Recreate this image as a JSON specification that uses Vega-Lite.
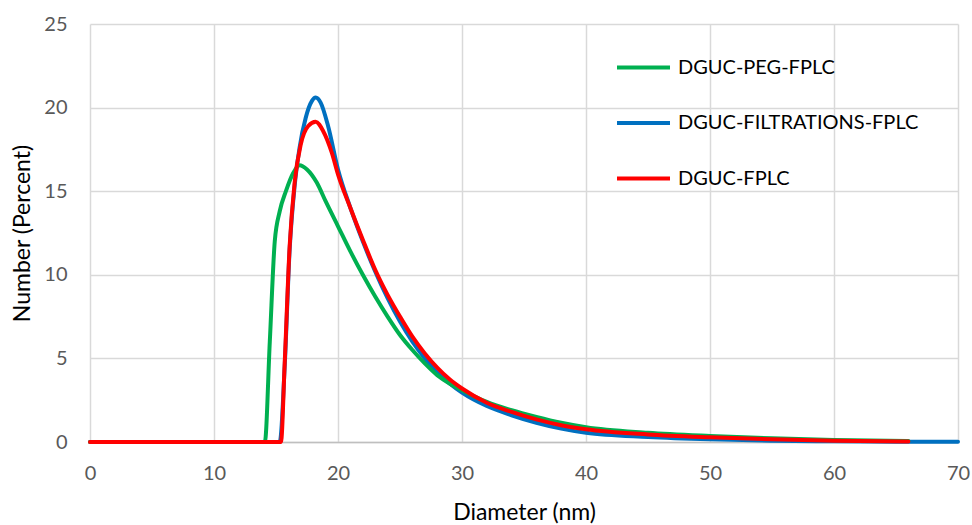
{
  "$schema": "https://vega.github.io/schema/vega-lite/v6.json",
  "width": 868,
  "height": 418,
  "autosize": {"type": "none"},
  "padding": {"left": 90, "top": 24, "right": 14, "bottom": 83},
  "background": "white",
  "config": {
    "view": {"stroke": null},
    "font": "Lato"
  },
  "data": {
    "values": [
      {"s": "DGUC-FILTRATIONS-FPLC", "x": 0, "y": 0},
      {"s": "DGUC-FILTRATIONS-FPLC", "x": 15.3, "y": 0},
      {"s": "DGUC-FILTRATIONS-FPLC", "x": 15.7, "y": 4.5},
      {"s": "DGUC-FILTRATIONS-FPLC", "x": 16.1, "y": 11.5},
      {"s": "DGUC-FILTRATIONS-FPLC", "x": 16.5, "y": 15.3},
      {"s": "DGUC-FILTRATIONS-FPLC", "x": 16.9, "y": 17.6},
      {"s": "DGUC-FILTRATIONS-FPLC", "x": 17.4, "y": 19.4},
      {"s": "DGUC-FILTRATIONS-FPLC", "x": 17.9, "y": 20.4},
      {"s": "DGUC-FILTRATIONS-FPLC", "x": 18.2, "y": 20.6},
      {"s": "DGUC-FILTRATIONS-FPLC", "x": 18.6, "y": 20.3},
      {"s": "DGUC-FILTRATIONS-FPLC", "x": 19.2, "y": 18.9},
      {"s": "DGUC-FILTRATIONS-FPLC", "x": 20, "y": 16.3},
      {"s": "DGUC-FILTRATIONS-FPLC", "x": 21, "y": 14.0},
      {"s": "DGUC-FILTRATIONS-FPLC", "x": 22, "y": 12.0},
      {"s": "DGUC-FILTRATIONS-FPLC", "x": 23, "y": 10.2},
      {"s": "DGUC-FILTRATIONS-FPLC", "x": 24, "y": 8.6},
      {"s": "DGUC-FILTRATIONS-FPLC", "x": 25, "y": 7.2},
      {"s": "DGUC-FILTRATIONS-FPLC", "x": 26, "y": 6.0},
      {"s": "DGUC-FILTRATIONS-FPLC", "x": 27, "y": 5.0},
      {"s": "DGUC-FILTRATIONS-FPLC", "x": 28, "y": 4.15},
      {"s": "DGUC-FILTRATIONS-FPLC", "x": 29, "y": 3.5},
      {"s": "DGUC-FILTRATIONS-FPLC", "x": 30, "y": 2.95},
      {"s": "DGUC-FILTRATIONS-FPLC", "x": 32, "y": 2.15},
      {"s": "DGUC-FILTRATIONS-FPLC", "x": 34, "y": 1.6},
      {"s": "DGUC-FILTRATIONS-FPLC", "x": 36, "y": 1.15},
      {"s": "DGUC-FILTRATIONS-FPLC", "x": 38, "y": 0.8},
      {"s": "DGUC-FILTRATIONS-FPLC", "x": 40, "y": 0.55},
      {"s": "DGUC-FILTRATIONS-FPLC", "x": 45, "y": 0.3},
      {"s": "DGUC-FILTRATIONS-FPLC", "x": 50, "y": 0.16},
      {"s": "DGUC-FILTRATIONS-FPLC", "x": 55, "y": 0.08},
      {"s": "DGUC-FILTRATIONS-FPLC", "x": 60, "y": 0.04},
      {"s": "DGUC-FILTRATIONS-FPLC", "x": 65, "y": 0.02},
      {"s": "DGUC-FILTRATIONS-FPLC", "x": 70, "y": 0.01},

      {"s": "DGUC-PEG-FPLC", "x": 0, "y": 0},
      {"s": "DGUC-PEG-FPLC", "x": 14.1, "y": 0},
      {"s": "DGUC-PEG-FPLC", "x": 14.5, "y": 6},
      {"s": "DGUC-PEG-FPLC", "x": 14.9, "y": 12},
      {"s": "DGUC-PEG-FPLC", "x": 15.3, "y": 13.8},
      {"s": "DGUC-PEG-FPLC", "x": 15.8, "y": 15.0},
      {"s": "DGUC-PEG-FPLC", "x": 16.4, "y": 16.1},
      {"s": "DGUC-PEG-FPLC", "x": 16.9, "y": 16.55},
      {"s": "DGUC-PEG-FPLC", "x": 17.5, "y": 16.3},
      {"s": "DGUC-PEG-FPLC", "x": 18.3, "y": 15.5},
      {"s": "DGUC-PEG-FPLC", "x": 19, "y": 14.4},
      {"s": "DGUC-PEG-FPLC", "x": 20, "y": 12.9},
      {"s": "DGUC-PEG-FPLC", "x": 21, "y": 11.4},
      {"s": "DGUC-PEG-FPLC", "x": 22, "y": 10.0},
      {"s": "DGUC-PEG-FPLC", "x": 23, "y": 8.7},
      {"s": "DGUC-PEG-FPLC", "x": 24, "y": 7.5},
      {"s": "DGUC-PEG-FPLC", "x": 25, "y": 6.4},
      {"s": "DGUC-PEG-FPLC", "x": 26, "y": 5.5},
      {"s": "DGUC-PEG-FPLC", "x": 27, "y": 4.7},
      {"s": "DGUC-PEG-FPLC", "x": 28, "y": 4.0},
      {"s": "DGUC-PEG-FPLC", "x": 29, "y": 3.5},
      {"s": "DGUC-PEG-FPLC", "x": 30, "y": 3.1},
      {"s": "DGUC-PEG-FPLC", "x": 32, "y": 2.4},
      {"s": "DGUC-PEG-FPLC", "x": 34, "y": 1.9},
      {"s": "DGUC-PEG-FPLC", "x": 36, "y": 1.5},
      {"s": "DGUC-PEG-FPLC", "x": 38, "y": 1.15},
      {"s": "DGUC-PEG-FPLC", "x": 40, "y": 0.88},
      {"s": "DGUC-PEG-FPLC", "x": 45, "y": 0.55},
      {"s": "DGUC-PEG-FPLC", "x": 50, "y": 0.36},
      {"s": "DGUC-PEG-FPLC", "x": 55, "y": 0.22},
      {"s": "DGUC-PEG-FPLC", "x": 60, "y": 0.12},
      {"s": "DGUC-PEG-FPLC", "x": 66, "y": 0.06},

      {"s": "DGUC-FPLC", "x": 0, "y": 0},
      {"s": "DGUC-FPLC", "x": 15.4, "y": 0},
      {"s": "DGUC-FPLC", "x": 15.7, "y": 4.7},
      {"s": "DGUC-FPLC", "x": 16.1, "y": 11.7},
      {"s": "DGUC-FPLC", "x": 16.5, "y": 15.5},
      {"s": "DGUC-FPLC", "x": 17.0, "y": 17.8},
      {"s": "DGUC-FPLC", "x": 17.6, "y": 18.9},
      {"s": "DGUC-FPLC", "x": 18.2, "y": 19.15},
      {"s": "DGUC-FPLC", "x": 18.8, "y": 18.6},
      {"s": "DGUC-FPLC", "x": 19.5, "y": 17.3},
      {"s": "DGUC-FPLC", "x": 20, "y": 16.0},
      {"s": "DGUC-FPLC", "x": 21, "y": 14.0},
      {"s": "DGUC-FPLC", "x": 22, "y": 12.1},
      {"s": "DGUC-FPLC", "x": 23, "y": 10.3},
      {"s": "DGUC-FPLC", "x": 24, "y": 8.8},
      {"s": "DGUC-FPLC", "x": 25, "y": 7.5},
      {"s": "DGUC-FPLC", "x": 26, "y": 6.3},
      {"s": "DGUC-FPLC", "x": 27, "y": 5.3},
      {"s": "DGUC-FPLC", "x": 28, "y": 4.45},
      {"s": "DGUC-FPLC", "x": 29, "y": 3.75},
      {"s": "DGUC-FPLC", "x": 30, "y": 3.2},
      {"s": "DGUC-FPLC", "x": 32, "y": 2.35},
      {"s": "DGUC-FPLC", "x": 34, "y": 1.8},
      {"s": "DGUC-FPLC", "x": 36, "y": 1.35},
      {"s": "DGUC-FPLC", "x": 38, "y": 1.0},
      {"s": "DGUC-FPLC", "x": 40, "y": 0.76},
      {"s": "DGUC-FPLC", "x": 45, "y": 0.45},
      {"s": "DGUC-FPLC", "x": 50, "y": 0.28},
      {"s": "DGUC-FPLC", "x": 55, "y": 0.16},
      {"s": "DGUC-FPLC", "x": 60, "y": 0.08},
      {"s": "DGUC-FPLC", "x": 66, "y": 0.03}
    ]
  },
  "mark": {"type": "line", "strokeWidth": 4, "interpolate": "monotone", "strokeCap": "round"},
  "encoding": {
    "x": {
      "field": "x", "type": "quantitative",
      "scale": {"domain": [0, 70], "nice": false},
      "axis": {
        "title": "Diameter (nm)",
        "values": [0, 10, 20, 30, 40, 50, 60, 70],
        "grid": true, "gridColor": "#d9d9d9", "gridWidth": 1.5,
        "domain": true, "domainColor": "#bfbfbf", "domainWidth": 1.5,
        "ticks": false,
        "labelFlush": false,
        "labelColor": "#595959", "labelFontSize": 20, "labelPadding": 21, "labelFont": "Lato",
        "titleColor": "#000000", "titleFontSize": 23, "titleFontWeight": "normal", "titlePadding": 18, "titleFont": "Lato"
      }
    },
    "y": {
      "field": "y", "type": "quantitative",
      "scale": {"domain": [0, 25], "nice": false},
      "axis": {
        "title": "Number (Percent)",
        "values": [0, 5, 10, 15, 20, 25],
        "grid": true, "gridColor": "#d9d9d9", "gridWidth": 1.5,
        "domain": false,
        "ticks": false,
        "labelFlush": false,
        "labelColor": "#595959", "labelFontSize": 20, "labelPadding": 23, "labelFont": "Lato",
        "titleColor": "#000000", "titleFontSize": 23, "titleFontWeight": "normal", "titlePadding": 9, "titleFont": "Lato"
      }
    },
    "color": {
      "field": "s", "type": "nominal",
      "scale": {
        "domain": ["DGUC-PEG-FPLC", "DGUC-FILTRATIONS-FPLC", "DGUC-FPLC"],
        "range": ["#00b050", "#0070c0", "#ff0000"]
      },
      "legend": {
        "title": null,
        "orient": "none",
        "legendX": 525,
        "legendY": 15,
        "symbolType": "stroke",
        "symbolSize": 2809,
        "symbolStrokeWidth": 4,
        "labelFontSize": 20,
        "labelFont": "Lato",
        "labelColor": "#000000",
        "labelOffset": 6,
        "labelLimit": 400,
        "rowPadding": 16.5
      }
    },
    "order": {"field": "s"}
  }
}
